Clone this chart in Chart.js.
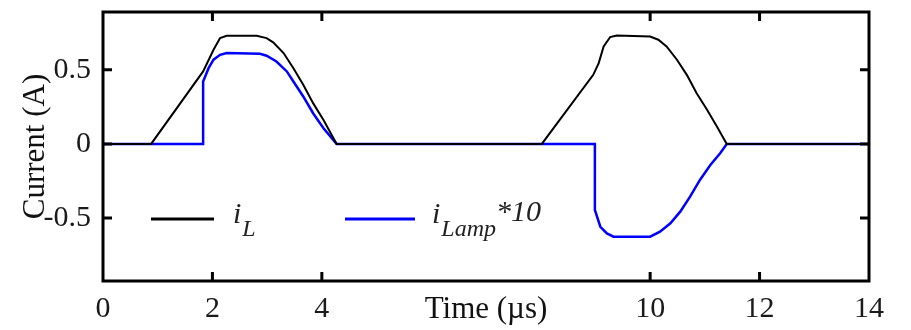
<!DOCTYPE html>
<html>
<head>
<meta charset="utf-8">
<script src="https://cdn.jsdelivr.net/npm/chart.js@4.4.1/dist/chart.umd.min.js"></script>
<style>
  html, body { margin: 0; padding: 0; background: #fff; }
  #wrap { width: 911px; height: 330px; }
</style>
</head>
<body>
<div id="wrap"><canvas id="c" width="911" height="330"></canvas></div>
<script>
// Inductor current i_L (A) against time (µs)
const timeL = [0, 0.88, 1.83, 2.02, 2.14, 2.26, 2.81, 2.99, 3.11, 3.30, 3.48, 3.66, 3.84, 4.03, 4.27,
               8.02, 8.96, 9.06, 9.15, 9.27, 9.39, 10.0, 10.15, 10.30, 10.49, 10.67, 10.85, 11.04, 11.22, 11.40, 14];
const currentL = [0, 0, 0.489, 0.635, 0.714, 0.73, 0.73, 0.714, 0.685, 0.613, 0.511, 0.399, 0.275, 0.162, 0,
                  0, 0.466, 0.545, 0.658, 0.721, 0.732, 0.725, 0.703, 0.658, 0.568, 0.466, 0.342, 0.23, 0.117, 0, 0];

// Lamp current scaled by 10
const timeLamp = [0, 1.83, 1.83, 1.93, 2.02, 2.14, 2.26, 2.87, 2.99, 3.17, 3.36, 3.48, 3.66, 3.84, 4.03, 4.27,
                  8.99, 8.99, 9.09, 9.21, 9.33, 10.0, 10.18, 10.37, 10.55, 10.73, 10.91, 11.1, 11.28, 11.4, 14];
const currentLamp10 = [0, 0, 0.421, 0.511, 0.568, 0.601, 0.613, 0.608, 0.595, 0.556, 0.489, 0.421, 0.32, 0.207, 0.106, 0,
                       0, -0.446, -0.559, -0.604, -0.626, -0.626, -0.592, -0.536, -0.457, -0.356, -0.243, -0.142, -0.063, 0, 0];

const xTickValues = [0, 2, 4, 10, 12, 14];
const yTickValues = [-0.5, 0, 0.5];
const xMarkValues = [2, 4, 10, 12];
const yMarkValues = [-0.5, 0, 0.5];

const xTitle = 'Time (µs)';
const yTitle = 'Current (A)';
// legend entries: main symbol, subscript, suffix
const legendParts = [
  ['i', 'L', ''],
  ['i', 'Lamp', '*10']
];

const serif = "'Liberation Serif', 'Times New Roman', serif";
Chart.defaults.font.family = serif;
Chart.defaults.color = '#1a1a1a';

const toPoints = (xs, ys) => xs.map((x, i) => ({ x, y: ys[i] }));

// Frame, inward tick marks and the in-plot legend
const framePlugin = {
  id: 'frame',
  afterDatasetsDraw(chart) {
    const { ctx, chartArea: a, scales: { x, y } } = chart;
    ctx.save();
    ctx.strokeStyle = '#000';
    ctx.lineWidth = 3;
    ctx.lineCap = 'butt';
    const len = 9;
    ctx.beginPath();
    xMarkValues.forEach(v => {
      const px = x.getPixelForValue(v);
      ctx.moveTo(px, a.bottom); ctx.lineTo(px, a.bottom - len);
      ctx.moveTo(px, a.top); ctx.lineTo(px, a.top + len);
    });
    yMarkValues.forEach(v => {
      const py = y.getPixelForValue(v);
      ctx.moveTo(a.left, py); ctx.lineTo(a.left + len, py);
      ctx.moveTo(a.right, py); ctx.lineTo(a.right - len, py);
    });
    ctx.stroke();
    ctx.strokeRect(a.left, a.top, a.right - a.left, a.bottom - a.top);

    // legend
    const ly = y.getPixelForValue(-0.5) + 1;
    const entries = [
      { x0: 151, x1: 214, tx: 233 },
      { x0: 345, x1: 415, tx: 432 }
    ];
    chart.data.datasets.forEach((ds, i) => {
      const e = entries[i];
      const [main, sub, suffix] = legendParts[i];
      ctx.strokeStyle = ds.borderColor;
      ctx.lineWidth = 3;
      ctx.beginPath();
      ctx.moveTo(e.x0, ly); ctx.lineTo(e.x1, ly);
      ctx.stroke();
      ctx.fillStyle = '#222';
      ctx.textBaseline = 'alphabetic';
      ctx.textAlign = 'left';
      ctx.font = 'italic 30px ' + serif;
      ctx.fillText(main, e.tx, ly + 4);
      const w = ctx.measureText(main).width;
      ctx.font = 'italic 24px ' + serif;
      ctx.fillText(sub, e.tx + w + 1, ly + 17);
      const ws = ctx.measureText(sub).width;
      if (suffix) {
        ctx.font = 'italic 30px ' + serif;
        ctx.fillText(suffix, e.tx + w + 1 + ws, ly + 2);
      }
    });
    ctx.restore();
  }
};

new Chart(document.getElementById('c'), {
  type: 'line',
  data: {
    datasets: [
      {
        label: 'iL',
        data: toPoints(timeL, currentL),
        borderColor: '#000000',
        borderWidth: 2,
        pointRadius: 0,
        tension: 0,
        fill: false
      },
      {
        label: 'iLamp*10',
        data: toPoints(timeLamp, currentLamp10),
        borderColor: '#0000ff',
        borderWidth: 2.5,
        pointRadius: 0,
        tension: 0,
        fill: false
      }
    ]
  },
  options: {
    responsive: false,
    animation: false,
    events: [],
    layout: { padding: { left: 0, right: 42, top: 12, bottom: 0 } },
    plugins: {
      legend: { display: false },
      tooltip: { enabled: false }
    },
    scales: {
      x: {
        type: 'linear',
        min: 0,
        max: 14,
        afterBuildTicks: s => { s.ticks = xTickValues.map(v => ({ value: v })); },
        afterFit: s => { s.height = 49; s.paddingLeft = 0; s.paddingRight = 0; },
        grid: { display: false, drawTicks: false },
        border: { display: false },
        ticks: {
          padding: 10,
          maxRotation: 0,
          autoSkip: false,
          font: { size: 30 },
          color: '#1a1a1a',
          callback: v => String(v)
        },
        title: {
          display: true,
          text: xTitle,
          font: { size: 31 },
          color: '#111',
          padding: { top: 0, bottom: 2 }
        }
      },
      y: {
        type: 'linear',
        min: -0.925,
        max: 0.89,
        afterBuildTicks: s => { s.ticks = yTickValues.map(v => ({ value: v })); },
        afterFit: s => { s.width = 103; s.paddingTop = 0; s.paddingBottom = 0; },
        grid: { display: false, drawTicks: false },
        border: { display: false },
        ticks: {
          padding: 12,
          autoSkip: false,
          font: { size: 30 },
          color: '#1a1a1a',
          callback: v => (v === 0 ? '0' : String(v))
        },
        title: {
          display: true,
          text: yTitle,
          font: { size: 31 },
          color: '#111',
          padding: { top: 17, bottom: 0 }
        }
      }
    }
  },
  plugins: [framePlugin]
});
</script>
</body>
</html>
